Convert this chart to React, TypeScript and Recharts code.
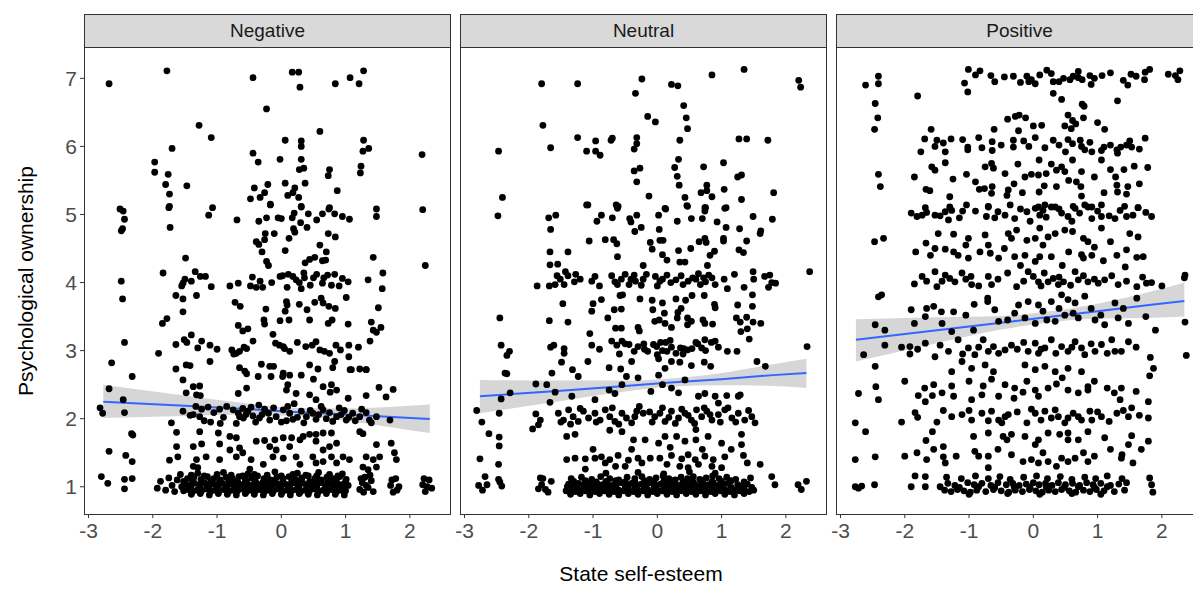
import React from 'react';
import { ComposedChart, Scatter, Line, Area, XAxis, YAxis } from 'recharts';

type Pt = [number, number];
// fit rows: x, fitted value, lower CI, upper CI
type FitRow = [number, number, number, number];

const xTicks = [-3, -2, -1, 0, 1, 2];
const yTicks = [1, 2, 3, 4, 5, 6, 7];
const panelNames = ['Negative', 'Neutral', 'Positive'];

// ---------- Negative ----------
const negUpper: Pt[] = [
  [-2.68,6.92],[-1.78,7.11],[-0.44,7.01],[0.17,7.09],[0.27,7.09],[0.29,6.87],[0.84,6.92],[1.07,7.01],[1.21,6.92],[1.28,7.11],
  [-0.23,6.55],[-1.28,6.31],[-1.09,6.13],[0.6,6.22],[-1.7,5.97],[0.06,6.09],[0.31,6.08],[0.31,6.0],[1.28,6.09],[1.27,5.93],[1.36,5.97],[2.19,5.88],
  [-0.44,5.9],[-0.36,5.77],[-0.02,5.81],[0.31,5.81],[-1.97,5.77],[-1.97,5.62],[-1.76,5.59],[0.28,5.66],[0.35,5.68],[0.75,5.66],[0.73,5.57],[1.24,5.71],[1.23,5.61],
  [-1.8,5.44],[-1.47,5.42],[-0.42,5.39],[-0.21,5.44],[0.06,5.46],[0.21,5.39],[0.18,5.32],[0.1,5.28],[0.37,5.46],[-1.74,5.3],[0.87,5.35],
  [-0.48,5.23],[-0.33,5.25],[-0.26,5.32],[0.27,5.25],[-0.17,5.15],[-1.74,5.12],[-2.51,5.08],[-1.07,5.1],[0.31,5.12],[0.75,5.1],[1.48,5.08],[2.2,5.07],
  [-2.46,5.05],[-2.44,4.93],[-2.47,4.79],[-2.49,4.76],[-1.75,5.1],[-1.73,4.81],[-1.13,4.99],[-0.69,4.92],[-0.35,4.9],[-0.23,4.95],[0.0,4.94],[0.17,4.95],[0.3,4.88],
  [0.42,5.01],[0.64,5.01],[0.74,5.08],[0.83,5.01],[0.95,4.97],[1.06,4.93],[0.31,5.11],[-0.17,5.14],[1.48,4.97],
  [-0.25,4.72],[-0.11,4.72],[-0.26,4.63],[-0.39,4.6],[-0.35,4.56],[0.19,4.79],[0.21,4.74],[0.12,4.65],[0.4,4.81],[0.73,4.72],[0.84,4.67],
  [-0.3,4.45],[0.06,4.47],[0.7,4.45],[0.69,4.33],[0.64,4.32],[0.52,4.37],[0.44,4.34],[0.37,4.29],[-0.23,4.31],[-0.2,4.25],[-1.49,4.36],[1.43,4.37],[2.24,4.25],
  [-1.84,4.14],[-2.49,4.02],[-1.53,3.99],[-1.55,3.95],[-1.5,4.05],[-1.34,4.16],[-1.26,4.09],[-1.18,4.09],[-1.09,3.94],
  [-0.67,3.99],[-0.48,3.95],[-0.39,3.93],[-0.29,3.93],[-0.33,4.02],
  [-0.02,4.09],[0.02,4.1],[0.11,4.12],[0.18,4.09],[0.23,4.04],[0.28,4.0],[0.35,4.14],[0.36,4.07],[0.45,3.96],[0.5,4.07],[0.64,3.99],[0.66,4.07],[0.72,4.11],[0.78,3.96],[0.83,4.12],[0.95,4.06],[1.04,4.01],
  [0.09,3.93],[0.31,3.91],[1.35,4.04],[1.58,4.14],[1.57,3.91],
  [-2.47,3.76],[-1.64,3.81],[-1.53,3.76],[-1.32,3.81],[-0.72,3.71],[-0.64,3.65],[-1.53,3.57],[-0.24,3.61],[0.08,3.72],[0.06,3.58],[0.09,3.67],
  [0.28,3.68],[0.4,3.6],[0.52,3.71],[0.62,3.77],[0.65,3.7],[0.74,3.65],[0.84,3.62],[1.01,3.78],[1.51,3.63],
  [-1.85,3.4],[-1.78,3.47],[-0.67,3.37],[-0.6,3.29],[-0.52,3.32],[-0.27,3.45],[-0.26,3.39],[-0.02,3.44],[-0.13,3.24],
  [0.44,3.45],[0.73,3.4],[0.79,3.45],[1.04,3.39],[1.4,3.42],[1.48,3.27],[1.55,3.34],[1.43,3.3],
  [-2.44,3.12],[-1.91,2.96],[-1.64,3.09],[-1.51,3.16],[-1.47,3.12],[-1.4,3.23],[-1.3,3.04],[-1.24,3.14],[-1.11,3.08],
  [-0.77,3.01],[-0.74,2.95],[-0.65,2.99],[-0.54,3.03],[-0.44,3.14],[-0.7,2.96],
  [-0.09,3.11],[-0.03,3.08],[0.05,3.03],[0.13,2.99],[0.03,3.06],
  [0.38,3.06],[0.48,3.08],[0.54,3.13],[0.6,3.01],[0.67,2.99],[0.75,2.96],[0.85,3.08],[1.05,3.08],[1.05,2.91],[1.38,3.14],
  [-2.64,2.82],[-1.64,2.73],[-1.48,2.79],[-1.42,2.78],[-1.11,2.84],[-0.65,2.75],[-0.57,2.7],[-0.31,2.8],[-0.18,2.77],[-0.12,2.77],[0.03,2.67],[0.44,2.79],[0.57,2.73],[0.8,2.75],[0.83,2.84],[1.07,2.72],[1.22,2.73],[1.32,2.72],
  [-0.45,4.08],[-0.15,4.0],[0.55,4.12],[0.9,3.95],[-0.58,3.05],[0.25,3.12],[0.92,3.01],[-0.05,4.95],[0.55,4.92],[0.2,5.02],[-1.4,4.02],[1.2,3.05],[-0.8,3.95],[0.12,3.45],[0.6,4.55],[-1.0,3.02],
];

const negLower: Pt[] = [
  [-2.32,2.62],[-1.53,2.57],[-1.37,2.47],[-1.27,2.48],[-1.48,2.38],[-1.32,2.35],[-1.26,2.34],
  [-0.54,2.66],[-0.36,2.62],[-0.16,2.62],[0.02,2.62],[0.13,2.64],[0.31,2.64],[0.5,2.58],[0.65,2.47],[0.78,2.5],[0.86,2.42],[0.76,2.39],[1.09,2.72],[1.32,2.72],
  [-0.67,2.37],[-0.54,2.45],[0.1,2.5],[0.08,2.42],[0.23,2.37],[0.44,2.35],[0.54,2.28],
  [1.52,2.46],[1.74,2.43],[1.63,2.32],[1.32,2.34],[1.04,2.3],
  [-2.68,2.44],[-2.46,2.28],[-2.82,2.16],[-2.78,2.08],[-2.44,2.09],
  [-1.53,2.11],[-1.37,2.06],[-1.24,2.14],[-1.14,2.17],[-0.96,2.14],[-1.27,2.03],
  [-0.75,2.13],[-0.67,2.08],[-0.65,2.03],[-0.59,2.01],[-0.52,2.11],[-0.44,2.04],[-0.34,2.01],[-0.26,2.14],[-0.18,1.98],[-0.08,2.03],[0.03,2.13],[0.13,2.08],[0.18,1.99],[0.31,2.11],
  [0.39,2.03],[0.49,2.08],[0.54,1.99],[0.65,2.13],[0.75,2.09],[0.86,2.03],[0.93,2.06],[1.01,1.98],[1.11,2.08],[1.22,2.03],[1.32,2.09],[1.37,1.98],[1.48,2.03],[1.69,1.98],
  [-1.2,1.97],[-1.05,2.09],[-0.9,2.02],[-0.3,2.06],[0.08,1.97],[0.45,2.12],[0.7,2.0],[0.98,2.12],[1.15,1.97],[-0.6,2.15],
  [-1.42,2.05],[-1.1,1.95],[-0.85,2.18],[-0.7,1.93],[-0.55,2.06],[-0.47,2.17],[-0.4,1.95],[-0.2,2.08],[-0.12,2.16],[0.0,1.95],[0.1,2.18],[0.25,2.02],
  [0.35,1.94],[0.58,2.06],[0.62,2.18],[0.8,1.96],[0.9,2.16],[1.05,2.02],[1.25,2.14],[1.4,1.94],[-0.95,1.93],[-1.33,2.18],[0.2,2.22],[-0.35,2.2],
  [-1.71,1.94],[-1.63,1.8],[-1.27,1.81],[-0.98,1.79],[-0.8,1.74],[-0.7,1.72],[-0.39,1.67],[-0.26,1.68],[-0.1,1.69],[0.03,1.72],[0.16,1.72],[0.34,1.74],[0.44,1.77],[0.54,1.77],[0.65,1.79],[0.78,1.79],[1.22,1.81],[1.27,1.78],
  [-2.33,1.78],[-2.31,1.76],
  [-1.63,1.59],[-1.37,1.59],[-1.24,1.63],[-0.96,1.63],[-0.8,1.54],[-0.65,1.57],[-0.18,1.59],[-0.08,1.54],[0.13,1.59],[0.29,1.69],[0.54,1.67],[0.65,1.54],[0.75,1.59],[0.86,1.64],[1.48,1.62],[1.71,1.64],
  [-2.68,1.52],[-2.42,1.46],[-2.32,1.37],
  [-1.74,1.39],[-1.61,1.44],[-1.32,1.4],[-1.17,1.44],[-0.96,1.4],[-0.7,1.44],[-0.6,1.5],[-0.47,1.4],[-0.13,1.44],[0.03,1.42],[0.23,1.44],[0.49,1.44],[0.65,1.37],[0.78,1.44],[0.96,1.44],[1.06,1.4],[1.32,1.44],[1.43,1.4],[1.53,1.44],[1.76,1.5],[1.79,1.4],
  [-1.37,1.3],[-1.3,1.28],[-0.49,1.26],[-0.28,1.33],[0.29,1.33],[0.54,1.35],[0.86,1.35],[1.27,1.29],[1.35,1.25],[1.48,1.29],
  [-2.8,1.15],[-2.7,1.05],[-2.44,1.11],[-2.44,0.97],[-2.32,1.12],
];

const negFloor: Pt[] = [
  [-1.93,0.98],[-1.88,1.08],[-1.8,0.95],[-1.75,1.13],[-1.7,1.02],[-1.66,0.93],[-1.62,1.1],[-1.57,1.18],
  [-1.52,0.94],[-1.45,0.96],[-1.38,0.93],[-1.31,0.95],[-1.24,0.94],[-1.17,0.97],[-1.1,0.93],[-1.03,0.95],[-0.96,0.94],[-0.89,0.96],[-0.82,0.93],[-0.75,0.95],[-0.68,0.94],[-0.61,0.97],[-0.54,0.93],
  [-0.47,0.95],[-0.4,0.94],[-0.33,0.96],[-0.26,0.93],[-0.19,0.95],[-0.12,0.94],[-0.05,0.97],[0.02,0.93],[0.09,0.95],[0.16,0.94],[0.23,0.96],[0.3,0.93],[0.37,0.95],[0.44,0.94],[0.51,0.97],
  [0.58,0.93],[0.65,0.95],[0.72,0.94],[0.79,0.96],[0.86,0.93],[0.93,0.95],[1.0,0.94],
  [-1.49,1.04],[-1.42,1.02],[-1.35,1.05],[-1.27,1.03],[-1.2,1.06],[-1.13,1.02],[-1.06,1.04],[-0.99,1.03],[-0.92,1.05],[-0.85,1.02],[-0.78,1.04],[-0.71,1.06],[-0.64,1.03],[-0.57,1.05],
  [-0.5,1.02],[-0.43,1.04],[-0.36,1.03],[-0.29,1.06],[-0.22,1.02],[-0.15,1.04],[-0.08,1.05],[-0.01,1.03],[0.06,1.04],[0.13,1.02],[0.2,1.06],[0.27,1.03],[0.34,1.05],[0.41,1.02],
  [0.48,1.04],[0.55,1.03],[0.62,1.06],[0.69,1.02],[0.76,1.04],[0.83,1.05],[0.9,1.03],[0.97,1.04],[1.04,1.02],
  [-1.46,1.12],[-1.36,1.14],[-1.25,1.11],[-1.15,1.15],[-1.05,1.12],[-0.95,1.1],[-0.86,1.14],[-0.76,1.12],[-0.66,1.15],[-0.56,1.11],[-0.46,1.13],[-0.37,1.16],[-0.27,1.12],
  [-0.17,1.1],[-0.07,1.14],[0.03,1.12],[0.12,1.15],[0.22,1.11],[0.32,1.13],[0.42,1.16],[0.52,1.12],[0.62,1.1],[0.71,1.14],[0.81,1.12],[0.91,1.15],[1.01,1.11],
  [-1.3,1.2],[-0.9,1.21],[-0.52,1.19],[-0.1,1.22],[0.25,1.2],[0.58,1.21],[0.95,1.19],
  [-1.4,0.89],[-1.26,0.9],[-1.12,0.88],[-0.98,0.9],[-0.84,0.89],[-0.7,0.88],[-0.56,0.9],[-0.42,0.89],[-0.28,0.88],[-0.14,0.9],[0.0,0.89],[0.14,0.88],[0.28,0.9],[0.42,0.89],[0.56,0.88],[0.7,0.9],[0.84,0.89],[0.98,0.88],
  [-1.55,1.0],[-1.41,0.99],[-1.27,1.0],[-1.13,0.99],[-0.99,1.0],[-0.85,0.99],[-0.71,1.0],[-0.57,0.99],[-0.43,1.0],[-0.29,0.99],[-0.15,1.0],[-0.01,0.99],[0.13,1.0],[0.27,0.99],[0.41,1.0],[0.55,0.99],[0.69,1.0],[0.83,0.99],[0.97,1.0],
  [-1.52,1.08],[-1.38,1.09],[-1.24,1.07],[-1.1,1.08],[-0.96,1.09],[-0.82,1.07],[-0.68,1.08],[-0.54,1.09],[-0.4,1.07],[-0.26,1.08],[-0.12,1.09],[0.02,1.07],[0.16,1.08],[0.3,1.09],[0.44,1.07],[0.58,1.08],[0.72,1.09],[0.86,1.07],[1.0,1.08],
  [-1.4,1.17],[-1.2,1.16],[-1.0,1.18],[-0.78,1.17],[-0.6,1.16],[-0.42,1.18],[-0.22,1.17],[0.0,1.16],[0.18,1.18],[0.38,1.17],[0.55,1.16],[0.75,1.18],[0.88,1.16],
  [1.22,0.96],[1.26,1.06],[1.3,1.14],[1.35,0.99],[1.4,1.09],[1.43,0.93],[1.7,1.02],[1.74,0.92],[1.78,1.12],[1.83,1.0],[2.2,1.03],[2.24,0.93],[2.3,1.1],[2.34,0.98],
  [1.24,1.12],[1.28,0.92],[1.38,1.17],[1.32,1.02],[1.72,1.1],[1.8,0.95],[2.27,1.0],[2.22,1.12],
];

// ---------- Neutral ----------
const neuUpper: Pt[] = [
  [-1.8,6.92],[-1.24,6.92],[-0.24,6.99],[0.22,6.91],[0.32,6.89],[-0.34,6.78],[0.85,7.05],[1.35,7.13],[2.2,6.97],[2.23,6.87],
  [0.41,6.6],[-0.15,6.44],[-0.03,6.36],[0.45,6.42],[0.47,6.26],[-1.78,6.31],[-2.47,5.93],[-1.66,5.98],
  [-1.24,6.13],[-0.96,6.08],[-1.1,5.93],[-0.96,5.93],[-0.89,5.87],[-0.72,6.09],[-0.7,6.12],[-0.32,6.13],[-0.32,6.04],[-0.36,5.96],[0.35,6.09],[1.27,6.11],[1.39,6.11],[1.72,6.09],
  [0.33,5.81],[0.27,5.69],[0.31,5.56],[0.34,5.43],[-0.36,5.64],[-0.27,5.68],[-0.32,5.48],[0.72,5.7],[1.03,5.76],[1.25,5.55],[1.31,5.58],
  [-2.41,5.25],[-1.08,5.14],[-0.61,5.12],[-0.13,5.27],[0.12,5.09],[0.43,5.25],[0.47,5.12],[0.68,5.32],[0.77,5.43],[0.77,5.35],[0.85,5.26],[1.04,5.37],[0.74,5.1],[1.07,5.1],[1.31,5.22],[1.81,5.32],
  [-2.48,4.98],[-1.69,4.95],[-1.58,4.99],[-1.66,4.78],
  [-1.1,5.14],[-0.94,4.9],[-0.87,4.99],[-0.7,4.95],[-0.62,5.09],[-0.64,5.14],[-0.43,4.94],[-0.41,4.89],[-0.32,4.99],[-0.35,4.75],[-0.25,4.81],[0.02,4.99],[0.03,4.78],[0.13,5.08],
  [0.31,4.9],[0.46,5.13],[0.53,4.94],[0.7,4.94],[0.74,5.05],[0.75,5.1],[0.93,4.89],[1.05,5.09],[1.07,4.81],[1.28,4.79],[1.49,4.97],[1.61,4.76],[1.6,4.72],[1.79,4.93],
  [-1.06,4.61],[-0.81,4.63],[-0.68,4.63],[-0.63,4.57],[-0.62,4.38],[-0.22,4.25],[-0.11,4.59],[-0.08,4.49],[0.04,4.62],[0.09,4.62],[0.08,4.41],[0.15,4.33],[0.33,4.47],[0.35,4.3],
  [0.43,4.3],[0.52,4.5],[0.65,4.6],[0.74,4.65],[0.76,4.59],[0.78,4.25],[0.89,4.46],[0.82,4.4],[1.03,4.61],[1.03,4.65],[1.27,4.48],[1.34,4.44],[1.39,4.61],[1.49,4.16],
  [-1.67,4.45],[-1.39,4.45],[-1.67,4.26],[-1.55,4.27],
  [-1.87,3.95],[-1.68,3.95],[-1.59,3.97],[-1.56,4.1],[-1.51,4.05],[-1.43,4.16],[-1.39,4.1],[-1.45,3.97],[-1.27,4.12],[-1.29,4.01],[-1.02,4.02],[-0.97,4.09],[-0.71,4.1],[-0.66,4.01],
  [-0.62,3.97],[-0.56,4.05],[-0.44,3.97],[-0.41,4.05],[-0.36,4.11],[-0.34,4.02],[-0.25,3.96],[-0.22,4.05],[-0.17,4.12],[-0.03,4.09],[0.04,4.02],[0.08,4.05],[0.15,4.11],[0.21,4.0],
  [0.29,4.04],[0.37,4.1],[0.48,4.02],[0.55,4.07],[0.64,4.13],[0.67,3.97],[0.72,4.07],[0.75,4.01],[0.8,4.11],[0.9,3.97],[1.04,4.05],[1.09,3.91],[1.35,3.93],[1.5,4.05],
  [1.67,4.09],[1.75,4.11],[1.78,4.0],[1.84,3.99],[1.73,3.93],[2.37,4.16],
  [-1.47,3.69],[-1.0,3.69],[-0.87,3.75],[-1.02,3.58],[-0.67,3.6],[-0.56,3.61],[-0.58,3.81],[-0.54,3.82],[-0.27,3.76],[-0.08,3.74],[-0.07,3.6],[0.08,3.7],[0.11,3.55],[0.29,3.76],
  [0.32,3.56],[0.44,3.74],[0.37,3.62],[0.54,3.81],[0.73,3.81],[0.89,3.68],[0.9,3.63],[1.25,3.67],[1.48,3.82],[1.48,3.65],
  [-2.45,3.48],[-1.68,3.44],[-1.39,3.42],[-0.77,3.48],[-0.65,3.33],[-0.56,3.33],[-0.3,3.34],[-0.28,3.29],[-0.04,3.43],[0.03,3.45],[0.12,3.4],[0.22,3.34],[0.31,3.48],[0.47,3.48],
  [0.47,3.38],[0.53,3.43],[0.71,3.45],[0.74,3.4],[0.86,3.39],[1.23,3.48],[1.29,3.42],[1.39,3.49],[1.4,3.32],[1.49,3.42],[1.61,3.4],[1.3,3.28],[-1.05,3.25],
  [-2.43,3.08],[-2.3,2.99],[-2.34,2.93],[-1.66,3.05],[-1.61,3.08],[-1.45,3.03],[-1.45,2.96],[-1.02,3.08],[-0.71,3.14],[-0.63,3.08],[-0.55,3.14],[-0.59,2.95],[-0.5,3.1],[-0.44,3.09],
  [-0.36,2.99],[-0.3,3.06],[-0.21,3.1],[-0.15,2.99],[-0.06,3.09],[-0.01,3.06],[0.05,3.12],[0.08,3.0],[0.13,3.12],[0.15,2.99],[0.22,3.05],[0.29,2.96],[0.36,3.04],[0.41,3.03],
  [0.47,3.01],[0.54,3.03],[0.63,3.1],[0.69,3.04],[0.74,3.16],[0.75,3.0],[0.84,3.12],[0.9,3.14],[1.09,2.99],[1.24,2.99],[1.43,3.17],[2.33,3.06],
  [-1.49,2.83],[-1.32,2.72],[-1.08,2.84],[-0.75,2.75],[-0.57,2.73],[-0.4,2.84],[0.02,2.88],[0.12,2.74],[0.22,2.84],[0.35,2.83],[0.53,2.78],[0.73,2.83],[0.83,2.77],[1.55,2.84],
  [1.68,2.77],[-2.37,2.67],[-1.64,2.67],
  [-0.9,3.02],[-0.2,3.02],[0.0,2.94],[0.2,3.15],[0.4,2.95],[0.6,3.12],[0.95,3.05],[-1.2,4.05],[-0.5,4.12],[0.0,3.95],[0.4,3.97],[0.6,4.05],[0.85,4.07],[1.2,4.12],[-0.9,3.95],
];

const neuLower: Pt[] = [
  [-2.34,2.66],[-1.89,2.51],[-1.72,2.5],[-2.29,2.38],[-2.43,2.29],[-1.67,2.24],[-1.59,2.39],[-1.33,2.33],[-1.23,2.62],[-0.97,2.28],[-0.75,2.42],[-0.66,2.37],[-0.55,2.5],[-0.48,2.62],
  [-0.3,2.6],[-0.1,2.4],[0.02,2.64],[0.08,2.5],[0.22,2.45],[0.33,2.38],[0.43,2.57],[0.64,2.33],[0.74,2.37],[0.9,2.33],[0.95,2.23],[1.08,2.34],[1.26,2.33],[1.29,2.35],
  [-2.81,2.12],[-2.73,1.95],[-2.62,1.78],[-2.46,2.08],[-2.46,1.73],[-2.46,1.6],[-1.89,2.07],[-1.85,1.91],[-1.94,1.85],[-1.82,1.98],
  [-1.54,2.08],[-1.46,1.98],[-1.38,2.13],[-1.31,2.03],[-1.23,1.96],[-1.15,2.11],[-1.07,2.01],[-0.97,2.08],[-0.89,1.98],[-0.81,2.13],[-0.74,2.03],[-0.66,1.96],[-0.55,2.08],[-0.48,2.01],
  [-0.4,1.94],[-0.32,2.11],[-0.22,2.08],[-0.04,2.03],[0.04,2.08],[0.12,1.96],[0.22,2.11],[0.33,2.01],[0.43,2.08],[0.53,1.98],[0.61,2.13],[0.69,2.03],[0.77,2.11],[0.85,1.98],
  [0.95,2.06],[1.05,2.13],[1.16,2.01],[1.26,2.08],[1.36,1.98],[1.47,2.03],[1.52,1.94],
  [-1.5,1.95],[-1.2,2.15],[-0.95,1.95],[-0.7,2.16],[-0.6,1.92],[-0.35,2.03],[-0.28,2.18],[-0.12,2.1],[-0.08,1.95],[0.08,2.16],[0.18,2.02],[0.28,1.93],[0.38,2.14],[0.48,2.05],
  [0.58,1.93],[0.73,2.16],[0.82,2.06],[0.98,1.95],[1.1,2.16],[1.22,1.95],[1.42,2.12],[-1.35,1.92],
  [-1.41,1.74],[-1.28,1.77],[-0.74,1.83],[-0.55,1.81],[-0.37,1.69],[-0.19,1.69],[0.02,1.64],[0.12,1.74],[0.3,1.74],[0.43,1.67],[0.6,1.84],[0.6,1.69],[0.79,1.74],[1.0,1.64],[1.31,1.77],[1.31,1.62],
  [-2.76,1.41],[-1.41,1.4],[-1.28,1.42],[-1.12,1.41],[-0.97,1.42],[-0.87,1.44],[-0.74,1.4],[-0.61,1.46],[-0.45,1.39],[-0.3,1.42],[-0.11,1.42],[0.04,1.42],[0.22,1.46],[0.38,1.41],
  [0.48,1.47],[0.59,1.4],[0.74,1.45],[0.87,1.4],[1.05,1.44],[1.34,1.46],[1.4,1.35],[1.6,1.33],[-2.47,1.33],[-1.12,1.26],[-0.81,1.35],[-0.5,1.3],[-0.24,1.35],[0.15,1.33],
  [0.48,1.28],[0.64,1.33],[0.85,1.3],
  [-1.0,1.55],[-0.4,1.55],[0.2,1.58],[0.7,1.55],[1.15,1.55],[-0.65,1.3],[0.35,1.3],[1.0,1.28],
  [-2.78,1.02],[-2.68,1.15],[-2.65,1.03],[-2.47,1.11],[-2.42,1.01],[-1.82,1.13],[-1.8,1.03],[-1.74,0.96],[-1.65,1.08],
  [1.78,1.15],[1.83,1.03],[2.19,1.03],[2.24,0.96],[2.32,1.08],
  [-1.78,1.12],[-1.7,0.92],[-1.85,0.97],[-2.72,0.95],[-2.45,1.07],
];

const neuFloor: Pt[] = [
  [-1.42,0.94],[-1.35,0.96],[-1.27,0.93],[-1.2,0.95],[-1.12,0.94],[-1.05,0.97],[-0.97,0.93],[-0.9,0.95],[-0.82,0.94],[-0.75,0.96],[-0.67,0.93],[-0.6,0.95],[-0.52,0.94],[-0.45,0.97],
  [-0.37,0.93],[-0.3,0.95],[-0.22,0.94],[-0.15,0.96],[-0.07,0.93],[0.0,0.95],[0.08,0.94],[0.15,0.97],[0.23,0.93],[0.3,0.95],[0.38,0.94],[0.45,0.96],[0.53,0.93],[0.6,0.95],
  [0.68,0.94],[0.75,0.97],[0.83,0.93],[0.9,0.95],[0.98,0.94],[1.05,0.96],[1.13,0.93],[1.2,0.95],[1.28,0.94],[1.35,0.97],[1.43,0.93],[1.5,0.95],
  [-1.38,1.04],[-1.3,1.02],[-1.23,1.05],[-1.15,1.03],[-1.08,1.06],[-1.0,1.02],[-0.93,1.04],[-0.85,1.03],[-0.78,1.05],[-0.7,1.02],[-0.63,1.04],[-0.55,1.06],[-0.48,1.03],[-0.4,1.05],
  [-0.33,1.02],[-0.25,1.04],[-0.18,1.03],[-0.1,1.06],[-0.03,1.02],[0.05,1.04],[0.12,1.05],[0.2,1.03],[0.27,1.04],[0.35,1.02],[0.42,1.06],[0.5,1.03],[0.57,1.05],[0.65,1.02],
  [0.72,1.04],[0.8,1.03],[0.87,1.06],[0.95,1.02],[1.02,1.04],[1.1,1.05],[1.25,1.03],[1.4,1.04],
  [-1.34,1.12],[-1.18,1.14],[-1.02,1.11],[-0.88,1.15],[-0.74,1.12],[-0.6,1.1],[-0.47,1.14],[-0.35,1.12],[-0.24,1.15],[-0.12,1.11],[-0.02,1.13],[0.09,1.16],[0.18,1.12],[0.28,1.1],
  [0.37,1.14],[0.47,1.12],[0.56,1.15],[0.66,1.11],[0.76,1.13],[0.86,1.16],[0.96,1.12],[1.08,1.14],[1.22,1.11],[1.45,1.13],
  [-0.8,1.2],[-0.3,1.21],[0.1,1.19],[0.5,1.22],[0.9,1.2],
  [-1.35,0.89],[-1.2,0.9],[-1.05,0.88],[-0.9,0.9],[-0.75,0.89],[-0.6,0.88],[-0.45,0.9],[-0.3,0.89],[-0.15,0.88],[0.0,0.9],[0.15,0.89],[0.3,0.88],[0.45,0.9],[0.6,0.89],
  [0.75,0.88],[0.9,0.9],[1.05,0.89],[1.2,0.88],[1.35,0.9],
  [-1.4,1.0],[-1.25,0.99],[-1.1,1.0],[-0.95,0.99],[-0.8,1.0],[-0.65,0.99],[-0.5,1.0],[-0.35,0.99],[-0.2,1.0],[-0.05,0.99],[0.1,1.0],[0.25,0.99],[0.4,1.0],[0.55,0.99],
  [0.7,1.0],[0.85,0.99],[1.0,1.0],[1.15,0.99],[1.3,1.0],[1.47,0.99],
  [-1.3,1.08],[-1.12,1.09],[-0.95,1.07],[-0.8,1.08],[-0.65,1.09],[-0.5,1.07],[-0.35,1.08],[-0.2,1.09],[-0.05,1.07],[0.1,1.08],[0.25,1.09],[0.4,1.07],[0.55,1.08],[0.7,1.09],
  [0.85,1.07],[1.0,1.08],[1.15,1.09],[1.35,1.07],
];

// ---------- Positive ----------
const posUpper: Pt[] = [
  [-2.61,6.9],[-2.41,7.03],[-2.41,6.92],[-1.8,6.74],[-2.46,6.63],[-2.42,6.42],[-2.47,6.25],
  [-1.01,7.13],[-0.83,7.11],[-1.07,6.93],[-1.02,6.8],[-0.66,7.04],[-0.6,6.95],[-0.31,7.03],[-0.1,7.03],[-0.07,6.95],[-0.03,6.98],[0.03,6.92],[0.21,7.12],[0.28,7.07],[0.31,6.95],
  [0.47,7.0],[0.57,6.98],[0.62,7.03],[0.7,7.01],[0.76,6.98],[0.88,7.04],[0.9,6.91],[1.07,7.04],[1.4,6.97],[1.47,6.9],[1.52,7.06],[1.73,6.98],[1.74,7.09],[1.81,7.13],[2.21,7.04],[2.28,7.11],[2.25,6.98],
  [0.31,6.78],[0.44,6.69],[0.76,6.62],[0.79,6.59],[1.31,6.67],
  [-0.28,6.44],[-0.22,6.46],[-0.12,6.42],[0.13,6.31],[0.49,6.3],[0.54,6.46],[0.61,6.38],[0.66,6.33],[0.78,6.42],[0.59,6.26],[1.11,6.25],[-0.23,6.23],[-0.61,6.25],
  [-1.59,6.25],[-1.69,6.11],[-1.5,6.09],[-1.28,6.11],[-1.37,5.92],[-1.53,6.0],[-0.85,6.13],[-1.02,5.99],[-1.02,5.95],[-0.64,6.07],[-0.64,5.94],[-0.31,6.09],[-0.31,5.99],[-0.07,6.0],
  [0.03,6.13],[0.31,6.09],[0.4,6.02],[0.54,6.1],[0.61,6.04],[0.73,6.09],[0.75,6.0],[0.8,5.95],[0.91,5.92],[1.06,5.94],[1.1,5.99],[1.3,5.95],[1.36,5.99],[1.5,6.08],[1.53,5.99],
  [1.74,6.12],[1.45,6.02],[1.31,5.9],
  [-1.58,5.7],[-1.53,5.65],[-1.37,5.76],[-1.04,5.59],[-0.75,5.7],[-0.65,5.75],[-0.62,5.68],[-0.44,5.6],[-0.24,5.74],[-0.13,5.55],[-0.03,5.59],[0.08,5.58],[0.09,5.8],[0.28,5.74],
  [0.36,5.65],[0.44,5.7],[0.49,5.63],[0.61,5.8],[0.75,5.63],[1.06,5.8],[1.28,5.55],[1.41,5.66],[1.57,5.71],[1.78,5.69],[-2.41,5.59],[-2.38,5.41],
  [-1.67,5.37],[-1.61,5.35],[-1.3,5.26],[-0.84,5.37],[-0.76,5.38],[-0.64,5.41],[-0.65,5.31],[-0.41,5.28],[-0.39,5.36],[-0.17,5.32],[0.09,5.33],[0.17,5.42],[0.36,5.41],[0.67,5.48],
  [0.75,5.27],[0.74,5.41],[1.1,5.32],[1.3,5.43],[1.31,5.33],[1.47,5.41],[1.45,5.3],
  [-1.68,5.1],[-1.3,5.11],[-1.04,5.14],[-0.7,5.12],[-0.36,5.14],[0.08,5.11],[0.18,5.14],[0.34,5.11],[0.62,5.12],[0.8,5.14],[0.91,5.11],[1.06,5.14],[1.42,5.12],[1.63,5.1],
  [-1.81,4.97],[-1.73,4.99],[-1.66,5.03],[-1.53,4.99],[-1.37,5.04],[-1.27,5.06],[-1.1,5.05],[-1.32,4.92],[-0.7,5.11],[-0.73,4.97],[-0.6,4.95],[-0.44,4.99],[-0.29,4.94],[-0.1,5.04],
  [0.03,5.09],[0.1,4.99],[0.15,5.06],[0.28,5.11],[0.44,5.02],[0.54,4.97],[0.65,5.09],[0.85,5.11],[0.91,4.94],[1.06,4.97],[1.27,4.94],[1.45,4.97],[1.55,4.99],[1.84,4.97],[1.63,5.1],
  [-2.47,4.6],[-2.33,4.65],[-1.48,4.72],[-1.24,4.71],[-1.01,4.65],[-0.75,4.7],[-0.39,4.72],[-0.34,4.65],[-0.26,4.77],[-0.1,4.62],[0.03,4.65],[0.1,4.8],[0.23,4.67],[0.34,4.72],
  [0.49,4.77],[0.61,4.75],[0.78,4.65],[0.85,4.6],[1.06,4.8],[1.5,4.72],[1.63,4.67],
  [-1.83,4.45],[-1.67,4.58],[-1.53,4.5],[-1.37,4.49],[-1.24,4.45],[-1.17,4.4],[-1.01,4.36],[-0.83,4.45],[-0.7,4.55],[-0.67,4.43],[-0.54,4.36],[-0.29,4.38],[-0.13,4.4],[0.03,4.31],
  [0.1,4.38],[0.28,4.38],[0.75,4.41],[0.78,4.36],[0.91,4.4],[1.09,4.32],[1.3,4.4],[1.43,4.23],[1.61,4.37],[1.71,4.38],
  [-1.73,4.09],[-1.66,4.02],[-1.53,4.16],[-1.37,4.11],[-1.5,3.94],[-1.3,4.06],[-1.22,4.01],[-1.11,4.14],[-0.97,4.09],[-0.96,3.97],[-0.7,4.09],[-0.65,3.97],[-0.4,4.14],[-0.26,3.94],
  [-0.08,4.16],[0.0,4.09],[0.08,4.01],[0.17,4.14],[0.23,4.01],[0.31,4.06],[0.39,3.97],[0.47,4.01],[0.65,4.16],[0.7,4.04],[0.85,4.01],[1.01,3.99],[1.11,4.04],[1.32,3.97],
  [1.61,3.94],[1.76,3.99],[2.36,4.11],[2.35,4.07],
  [-2.41,3.79],[-2.36,3.82],[-1.9,3.6],[-1.66,3.62],[-1.43,3.57],[-1.24,3.57],[-0.92,3.68],[-0.71,3.77],[-0.71,3.72],[-0.23,3.67],[-0.08,3.72],[0.08,3.67],[0.28,3.72],[0.44,3.82],
  [0.54,3.75],[0.65,3.7],[0.8,3.8],[1.27,3.7],[1.61,3.77],[1.84,4.0],
  [-1.68,3.5],[-1.42,3.4],[-1.27,3.28],[-0.93,3.3],[-0.54,3.43],[-0.29,3.55],[-0.13,3.48],[0.03,3.4],[0.21,3.45],[0.34,3.43],[0.49,3.52],[0.7,3.48],[0.96,3.45],[1.11,3.38],
  [1.32,3.48],[1.48,3.4],[-2.46,3.38],[-2.31,3.3],[2.36,3.42],
  [-2.64,2.94],[-2.31,3.08],[-1.92,3.06],[-1.68,3.11],[-1.53,2.91],[-1.32,2.99],[-1.17,3.16],[-1.01,3.04],[-0.91,2.94],[-0.78,3.16],[-0.7,2.99],[-0.62,3.06],[-0.54,2.96],[-0.44,3.01],
  [-0.34,3.08],[-0.08,2.99],[0.03,3.11],[0.08,2.96],[0.18,3.04],[0.28,3.16],[0.44,3.06],[0.54,2.99],[0.65,3.13],[0.75,3.04],[0.8,2.94],[0.96,2.99],[1.06,3.09],[1.22,3.16],
  [1.27,2.99],[1.37,2.99],[1.48,3.13],[2.38,2.93],[-2.46,2.77],[-1.92,2.95],
  [-1.27,2.69],[-1.11,2.84],[-0.96,2.74],[-0.75,2.79],[-0.62,2.69],[-0.13,2.79],[0.03,2.72],[0.18,2.77],[0.34,2.69],[0.54,2.74],[0.75,2.69],[1.87,2.74],
];

// second pass over the positive panel: denser clumps
const posDense: Pt[] = [
  [-0.9,7.05],[-0.45,7.02],[0.1,7.05],[0.4,6.95],[0.95,7.0],[1.2,7.08],[1.6,7.03],[2.1,7.06],[0.7,7.1],[-0.2,6.94],
  [-1.4,6.05],[-1.1,6.1],[-0.8,5.98],[-0.5,6.02],[-0.15,6.08],[0.18,5.98],[0.5,5.92],[0.88,6.06],[1.2,6.02],[1.65,5.96],[-1.75,5.92],[0.0,6.3],[1.0,6.35],[-0.4,6.4],
  [-1.25,5.52],[-0.9,5.48],[-0.3,5.45],[0.2,5.6],[0.55,5.5],[0.95,5.55],[1.2,5.66],[-1.85,5.55],[1.65,5.45],
  [-1.9,5.02],[-1.45,4.98],[-1.15,4.95],[-0.9,5.05],[-0.55,5.04],[-0.2,5.08],[0.2,4.96],[0.4,5.08],[0.72,5.02],[1.0,5.05],[1.18,4.98],[1.35,5.06],[1.75,5.03],[-0.05,4.9],[0.6,4.9],
  [-1.6,4.4],[-1.05,4.55],[-0.45,4.5],[0.15,4.55],[0.55,4.45],[0.95,4.52],[1.2,4.6],[1.45,4.48],[-0.2,4.25],[0.45,4.25],
  [-1.85,3.98],[-1.42,4.02],[-1.05,4.05],[-0.85,3.95],[-0.55,4.05],[-0.15,4.02],[0.12,3.95],[0.4,4.08],[0.58,3.96],[0.78,4.1],[0.95,4.05],[1.22,4.1],[1.45,4.02],[1.7,4.08],[2.0,3.95],
  [-1.55,3.65],[-1.05,3.52],[-0.6,3.6],[-0.4,3.45],[0.15,3.58],[0.4,3.62],[0.62,3.55],[0.9,3.62],[1.05,3.52],[1.4,3.62],[1.75,3.5],[-1.85,3.4],[1.9,3.3],
  [-1.8,3.02],[-1.45,3.08],[-1.1,2.95],[-0.85,3.05],[-0.25,3.02],[-0.15,3.12],[0.12,3.02],[0.35,2.96],[0.6,3.05],[0.9,3.1],[1.15,2.96],[1.6,3.05],[1.82,2.9],[-2.05,3.05],
  [-2.0,2.55],[-1.55,2.5],[-1.0,2.55],[-0.65,2.58],[-0.1,2.55],[0.45,2.6],[0.95,2.55],[1.15,2.45],[1.6,2.4],[-0.3,2.3],
  [-1.8,2.02],[-1.5,1.95],[-1.4,2.12],[-1.0,2.12],[-0.7,1.97],[-0.25,2.1],[0.12,1.98],[0.34,2.13],[0.62,2.08],[1.0,2.1],[1.18,1.96],[1.4,2.12],[1.65,2.05],[-2.05,1.95],
  [-1.55,1.55],[-1.2,1.45],[-0.55,1.55],[0.15,1.5],[0.95,1.45],[1.2,1.55],[1.55,1.35],[-2.0,1.45],
];

const posLower: Pt[] = [
  [-2.72,2.37],[-2.45,2.47],[-2.41,2.28],[-2.77,1.94],[-2.61,1.81],[-2.77,1.4],[-2.46,1.44],[-1.84,2.09],[-1.79,2.34],[-1.69,2.45],[-1.68,2.25],[-1.57,2.34],[-1.42,2.38],[-1.27,2.48],
  [-1.24,2.33],[-0.96,2.28],[-0.8,2.35],[-0.78,2.48],[-0.54,2.33],[-0.44,2.5],[-0.29,2.45],[-0.16,2.39],[0.03,2.42],[0.08,2.33],[0.23,2.45],[0.36,2.51],[0.54,2.42],[0.7,2.38],
  [0.85,2.42],[0.85,2.47],[1.26,2.38],[1.35,2.28],[1.37,2.45],[1.53,2.16],[1.81,2.63],[1.79,2.25],
  [-1.27,2.03],[-1.11,2.06],[-0.96,1.98],[-0.8,2.08],[-0.65,2.11],[-0.54,1.98],[-0.44,2.03],[-0.49,1.94],[-0.39,2.06],[-0.03,2.14],[0.03,2.08],[0.18,2.11],[0.28,2.01],[0.39,2.03],
  [0.49,1.94],[0.54,2.01],[0.7,2.03],[0.75,1.98],[0.88,2.11],[0.91,1.98],[1.06,2.03],[1.3,2.08],[1.48,2.03],[1.79,2.01],[-0.1,1.94],
  [-1.67,1.68],[-1.57,1.81],[-0.93,1.74],[-0.7,1.79],[-0.47,1.74],[-0.41,1.69],[-0.34,1.77],[-0.13,1.74],[0.03,1.62],[0.08,1.69],[0.23,1.79],[0.41,1.77],[0.54,1.79],[0.54,1.69],
  [0.7,1.69],[0.85,1.81],[1.11,1.72],[1.48,1.62],[1.53,1.75],[1.79,1.67],
  [-1.81,1.5],[-1.66,1.4],[-1.4,1.59],[-1.4,1.44],[-1.37,1.35],[-0.91,1.52],[-0.85,1.45],[-0.7,1.45],[-0.7,1.28],[-0.34,1.47],[-0.16,1.37],[-0.03,1.4],[0.08,1.35],[0.23,1.37],
  [0.36,1.3],[0.44,1.42],[0.54,1.37],[0.65,1.42],[0.78,1.5],[0.85,1.37],[1.37,1.42],[1.38,1.47],[1.68,1.55],
  [-2.77,1.0],[-2.72,0.98],[-2.67,1.01],[-2.47,1.03],[-1.9,1.0],[-1.84,1.16],[-1.68,1.15],[-1.68,1.0],[1.81,1.13],[1.84,1.03],[1.86,0.92],
];

const posFloor: Pt[] = [
  [-1.38,0.95],[-1.28,0.93],[-1.18,0.96],[-1.08,0.94],[-0.98,0.92],[-0.88,0.95],[-0.74,0.93],[-0.62,0.96],[-0.5,0.94],[-0.38,0.92],[-0.28,0.95],[-0.17,0.93],[-0.06,0.96],
  [0.04,0.94],[0.14,0.92],[0.24,0.95],[0.34,0.93],[0.44,0.96],[0.56,0.94],[0.66,0.92],[0.78,0.95],[0.88,0.93],[0.98,0.96],[1.1,0.94],[1.26,0.93],[1.42,0.95],
  [-1.33,1.05],[-1.22,1.02],[-1.02,1.06],[-0.92,1.03],[-0.8,1.05],[-0.66,1.02],[-0.55,1.06],[-0.42,1.03],[-0.32,1.05],[-0.22,1.02],[-0.11,1.04],[0.0,1.06],[0.09,1.03],[0.19,1.05],
  [0.29,1.02],[0.39,1.06],[0.5,1.03],[0.61,1.05],[0.72,1.02],[0.83,1.06],[0.93,1.03],[1.05,1.05],[1.2,1.02],[1.33,1.04],
  [-1.35,1.14],[-1.12,1.12],[-0.9,1.16],[-0.7,1.12],[-0.52,1.15],[-0.36,1.11],[-0.15,1.14],[0.05,1.16],[0.22,1.12],[0.42,1.15],[0.6,1.11],[0.8,1.14],[0.97,1.12],[1.15,1.16],[1.38,1.12],
  [-1.45,1.0],[-1.15,0.99],[-0.85,1.0],[-0.6,0.99],[-0.3,1.0],[-0.05,0.99],[0.2,1.0],[0.48,0.99],[0.7,1.0],[0.95,0.99],[1.15,1.0],[1.45,1.06],[-1.0,0.89],[-0.4,0.9],[0.1,0.89],[0.6,0.9],[1.05,0.89],
];

// smooth (lm) line with its 95% band, read at a few x positions
const negFit: FitRow[] = [
  [-2.77,2.25,2.01,2.5],[-1.5,2.19,2.04,2.34],[-0.5,2.14,2.06,2.22],[0.2,2.1,2.04,2.16],[1.0,2.06,1.97,2.15],[1.8,2.02,1.86,2.18],[2.31,1.995,1.79,2.21],
];
const neuFit: FitRow[] = [
  [-2.76,2.33,2.08,2.57],[-1.5,2.41,2.26,2.56],[-0.5,2.48,2.4,2.56],[0.2,2.53,2.47,2.59],[1.0,2.58,2.49,2.67],[1.8,2.64,2.48,2.8],[2.32,2.67,2.45,2.88],
];
const posFit: FitRow[] = [
  [-2.76,3.16,2.84,3.46],[-1.5,3.3,3.11,3.49],[-0.5,3.41,3.31,3.51],[0.2,3.49,3.41,3.57],[1.0,3.58,3.47,3.69],[1.8,3.67,3.48,3.86],[2.35,3.73,3.5,4.0],
];

const panelPoints: Pt[][] = [
  [...negUpper, ...negLower, ...negFloor],
  [...neuUpper, ...neuLower, ...neuFloor],
  [...posUpper, ...posDense, ...posLower, ...posFloor],
];
const panelFits: FitRow[][] = [negFit, neuFit, posFit];

const PLOT_TOP = 47;
const PLOT_H = 467;
const PANEL_W = 367;
const panelLeft = [84, 460, 836];
const Y_AXIS_W = 84;
const FONT = '"Liberation Sans", Arial, sans-serif';

const Dot = (props: any) => <circle cx={props.cx} cy={props.cy} r={3.4} fill="#000000" />;

function Panel({ idx }: { idx: number }) {
  const showY = idx === 0;
  const pts = panelPoints[idx].map(([x, y]) => ({ x, y }));
  const rows = panelFits[idx].map(([x, fit, lo, hi]) => ({ x, fit, band: [lo, hi] }));
  const left = panelLeft[idx] - (showY ? Y_AXIS_W : 0);
  return (
    <div style={{ position: 'absolute', left, top: PLOT_TOP }}>
      <ComposedChart
        width={PANEL_W + (showY ? Y_AXIS_W : 0)}
        height={PLOT_H + 45}
        data={rows}
        margin={{ top: 0, right: 0, bottom: 0, left: 0 }}
        style={{ overflow: 'visible' }}
      >
        <XAxis
          type="number"
          dataKey="x"
          domain={[-3.07, 2.64]}
          ticks={xTicks}
          interval={0}
          allowDataOverflow
          height={45}
          axisLine={false}
          tickLine={{ stroke: '#333333' }}
          tickSize={4}
          tickMargin={5}
          tick={{ fill: '#4D4D4D', fontSize: 21, fontFamily: FONT }}
        />
        <YAxis
          type="number"
          domain={[0.6, 7.46]}
          ticks={yTicks}
          interval={0}
          allowDataOverflow
          width={Y_AXIS_W}
          hide={!showY}
          axisLine={false}
          tickLine={{ stroke: '#333333' }}
          tickSize={4}
          tickMargin={3}
          tick={{ fill: '#4D4D4D', fontSize: 21, fontFamily: FONT }}
        />
        <Scatter data={pts} dataKey="y" shape={Dot} isAnimationActive={false} />
        <Area
          dataKey="band"
          type="monotone"
          fill="#999999"
          fillOpacity={0.4}
          stroke="none"
          isAnimationActive={false}
        />
        <Line dataKey="fit" type="linear" stroke="#3366FF" strokeWidth={2} dot={false} isAnimationActive={false} />
      </ComposedChart>
      {/* panel border */}
      <div
        style={{
          position: 'absolute',
          left: showY ? Y_AXIS_W : 0,
          top: 0,
          width: PANEL_W,
          height: PLOT_H + 1,
          border: '1px solid #333333',
          boxSizing: 'border-box',
          pointerEvents: 'none',
        }}
      />
    </div>
  );
}

export default function App() {
  return (
    <div
      style={{
        position: 'absolute',
        left: 0,
        top: 0,
        width: 1193,
        height: 595,
        overflow: 'hidden',
        background: '#ffffff',
        fontFamily: FONT,
      }}
    >
      <style>{'.recharts-surface{overflow:visible}'}</style>
      {panelNames.map((name, i) => (
        <div
          key={name}
          style={{
            position: 'absolute',
            left: panelLeft[i],
            top: 14,
            width: PANEL_W,
            height: PLOT_TOP - 14 + 1,
            background: '#D9D9D9',
            border: '1px solid #333333',
            boxSizing: 'border-box',
            display: 'flex',
            alignItems: 'center',
            justifyContent: 'center',
            fontSize: 19,
            color: '#1A1A1A',
          }}
        >
          {name}
        </div>
      ))}
      {[0, 1, 2].map((i) => (
        <Panel key={i} idx={i} />
      ))}
      <div
        style={{
          position: 'absolute',
          left: 26,
          top: PLOT_TOP + PLOT_H / 2,
          transform: 'translate(-50%, -50%) rotate(-90deg)',
          whiteSpace: 'nowrap',
          fontSize: 21,
          color: '#000000',
        }}
      >
        Psychological ownership
      </div>
      <div
        style={{
          position: 'absolute',
          left: 641,
          top: 574,
          transform: 'translate(-50%, -50%)',
          whiteSpace: 'nowrap',
          fontSize: 21,
          color: '#000000',
        }}
      >
        State self-esteem
      </div>
    </div>
  );
}
